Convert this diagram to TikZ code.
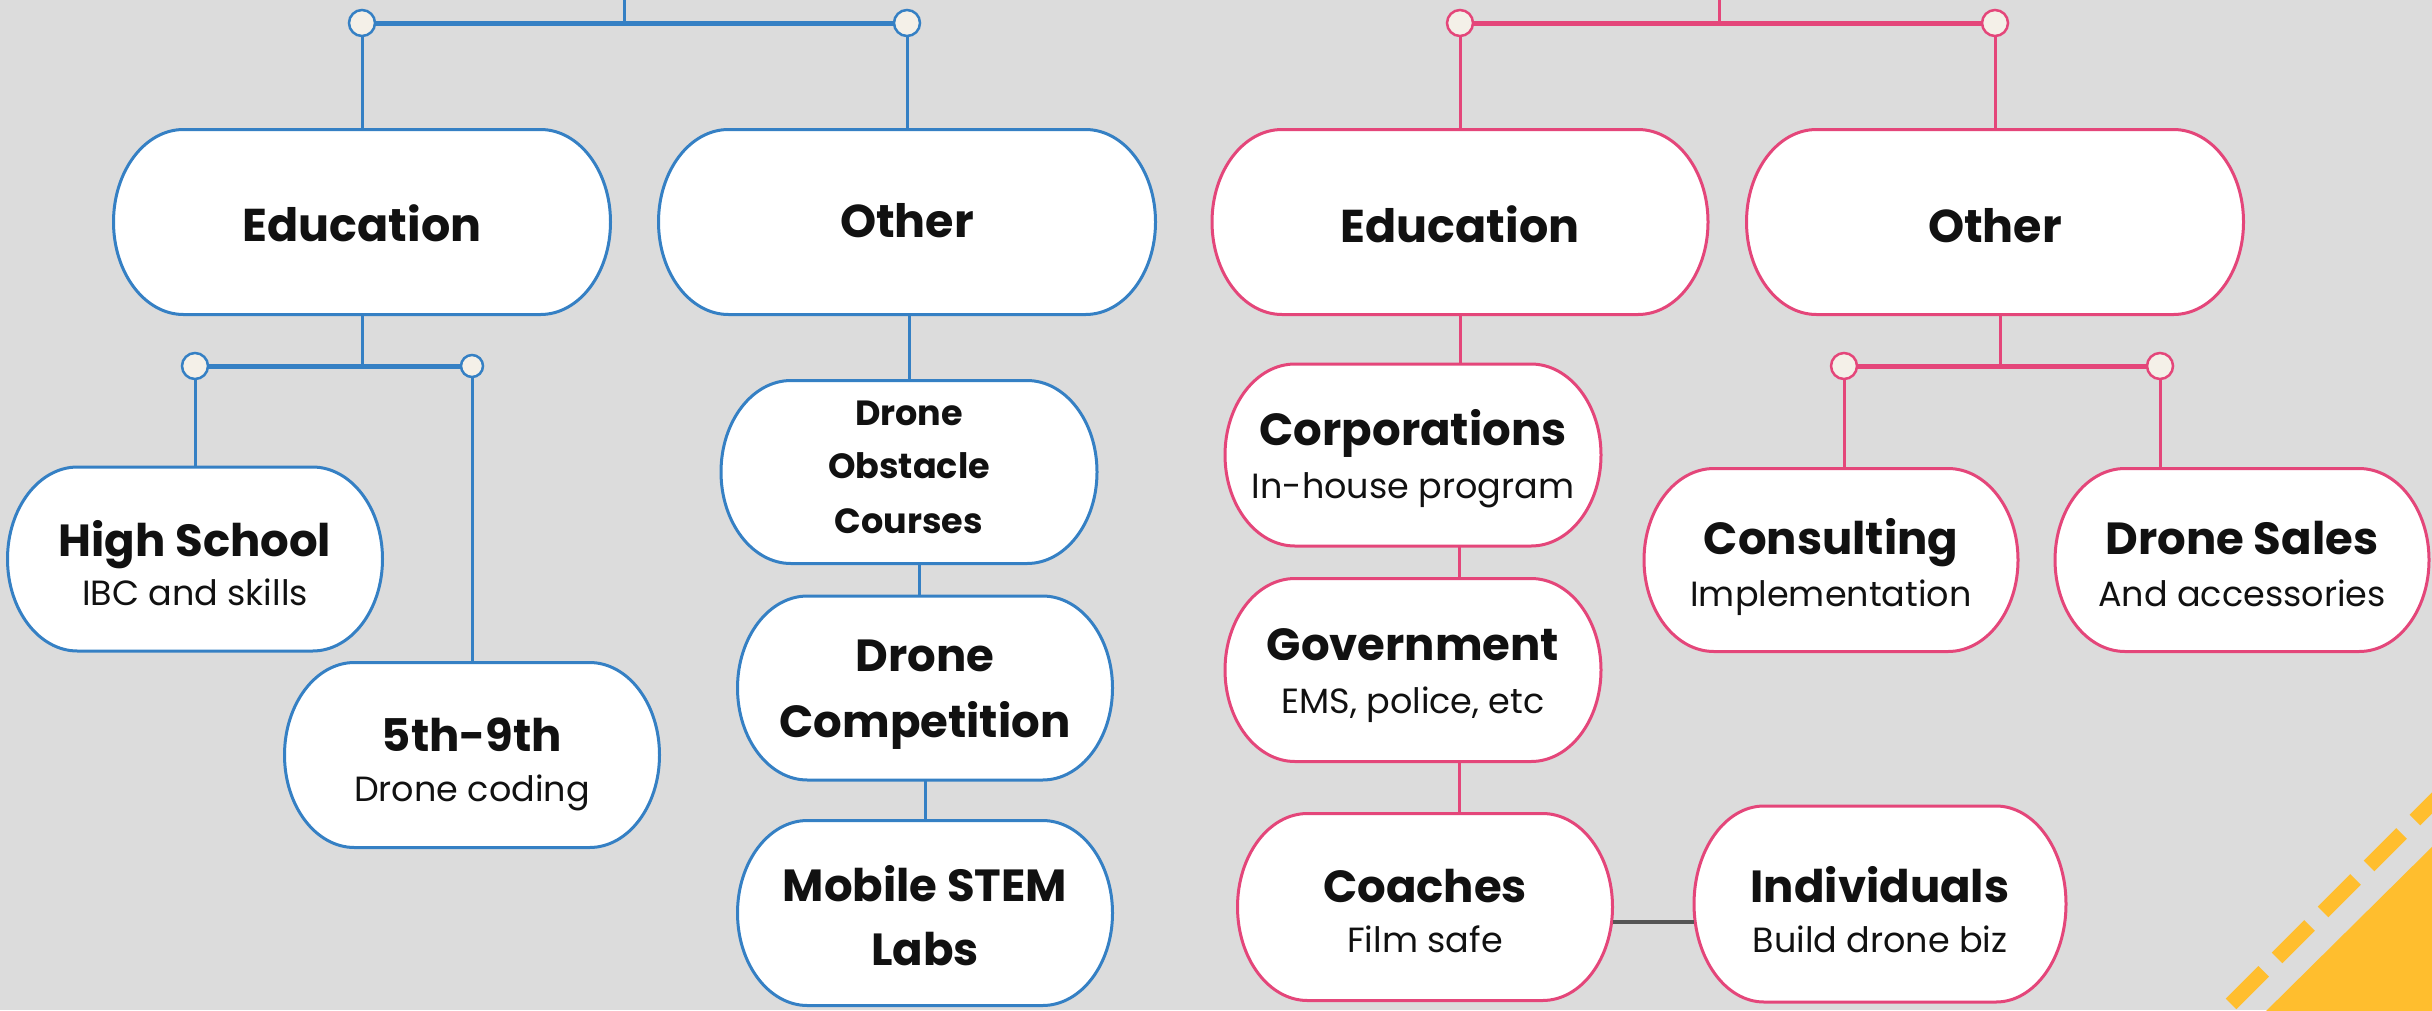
\documentclass[tikz,border=0pt]{standalone}
\usepackage{fontspec}
\setmainfont{Poppins}
\usetikzlibrary{calc}
\definecolor{bl}{RGB}{53,128,196}
\definecolor{pk}{RGB}{228,70,122}
\definecolor{cream}{RGB}{244,240,232}
\definecolor{bgc}{RGB}{220,220,220}
\definecolor{yel}{RGB}{255,190,46}
\definecolor{ink}{RGB}{17,17,17}
\definecolor{lnk}{RGB}{85,85,85}

% name, x, y, half width, half height, colour
\newcommand\pill[6]{%
  \draw[#6, line width=3pt, fill=white]
    ({#2-#4+70},{#3-#5}) -- ({#2+#4-70},{#3-#5})
    arc[start angle=90, end angle=-90, x radius=70pt, y radius=#5pt]
    -- ({#2-#4+70},{#3+#5})
    arc[start angle=270, end angle=90, x radius=70pt, y radius=#5pt] -- cycle;
  \node[holder, minimum width={2*#4pt}, minimum height={2*#5pt}] (#1) at (#2,#3) {};
}

\tikzset{
  holder/.style={inner sep=0pt, outer sep=0pt},
  conn/.style={line width=3pt},
  bar/.style={line width=5pt},
  joint/.style={circle, fill=cream, line width=2.5pt, inner sep=0pt, outer sep=0pt, minimum size=#1},
  joint/.default=26pt,
  big/.style={font=\fontsize{46}{52}\selectfont\bfseries, text=ink, anchor=base, inner sep=0pt},
  ttl/.style={font=\fontsize{45}{50}\selectfont\bfseries, text=ink, anchor=base, inner sep=0pt},
  sml/.style={font=\fontsize{35}{40}\selectfont\bfseries, text=ink, anchor=base, inner sep=0pt},
  sub/.style={font=\fontsize{35}{40}\selectfont, text=ink, anchor=base, inner sep=0pt},
}

\begin{document}
\begin{tikzpicture}[x=1pt, y=-1pt]
\useasboundingbox (0,0) rectangle (2432,1010);
\fill[bgc] (0,0) rectangle (2432,1010);

% yellow corner
\begin{scope}
  \clip (0,0) rectangle (2432,1010);
  \fill[yel] (2440,839) -- (2259,1018) -- (2440,1018) -- cycle;
  \draw[yel, line width=15pt, dash pattern=on 46pt off 19pt, dash phase=21pt] (2200,1035) -- (2450,785);
\end{scope}

% ---------- blue tree ----------
\pill{eduB}{362}{222}{248.5}{92.5}{bl}
\pill{othB}{907}{222}{248.5}{92.5}{bl}
\pill{hs}{195}{559}{187.5}{92}{bl}
\pill{gnine}{472}{755}{187.5}{92.5}{bl}
\pill{obs}{909}{472}{188}{91.5}{bl}
\pill{comp}{925}{688}{187.5}{92}{bl}
\pill{mob}{925}{913}{187.5}{92.5}{bl}

\node[big] (eduB-t) at (362,241) {Education};
\node[big] (othB-t) at (907,237) {Other};
\node[ttl] (hs-t) at (195,556) {High School};
\node[sub] (hs-s) at (195,605) {IBC and skills};
\node[ttl] (gnine-t) at (472,751) {5th-9th};
\node[sub] (gnine-s) at (472,801) {Drone coding};
\node[sml] (obs-a) at (909,425) {Drone};
\node[sml] (obs-b) at (909,478) {Obstacle};
\node[sml] (obs-c) at (909,533) {Courses};
\node[ttl] (comp-a) at (925,671) {Drone};
\node[ttl] (comp-b) at (925,737) {Competition};
\node[ttl] (mob-a) at (925,901) {Mobile STEM};
\node[ttl] (mob-b) at (925,965) {Labs};

\node[joint, draw=bl] (c1) at (362,23) {};
\node[joint, draw=bl] (c2) at (907,23) {};
\node[joint, draw=bl] (c3) at (195,366) {};
\node[joint=22pt, draw=bl] (c4) at (472,366) {};
\coordinate (btop) at (624,-10);
\coordinate (bj) at (624,23);
\coordinate (ej) at (362,366);

\begin{scope}[bl]
  \draw[conn] (btop) -- (bj);
  \draw[bar] (c1) -- (c2);
  \draw[conn] (c1) -- (eduB.north);
  \draw[conn] (c2) -- (othB.north);
  \draw[conn] (eduB.south) -- (ej);
  \draw[bar] (c3) -- (c4);
  \draw[conn] (c3) -- (hs.north);
  \draw[conn] (c4) -- (gnine.north);
  \draw[conn] (othB.south -| obs.north) -- (obs.north);
  \draw[conn] ([xshift=10pt]obs.south) -- ([xshift=-6pt]comp.north);
  \draw[conn] (comp.south) -- (mob.north);
\end{scope}

% ---------- pink tree ----------
\pill{eduP}{1460}{222}{248}{92.5}{pk}
\pill{othP}{1995}{222}{248.5}{92.5}{pk}
\pill{corp}{1413}{455}{188}{91}{pk}
\pill{gov}{1413}{670}{188}{91.5}{pk}
\pill{coach}{1425}{907}{187.5}{93.5}{pk}
\pill{indiv}{1880}{904}{186}{98}{pk}
\pill{cons}{1831}{560}{187}{91.5}{pk}
\pill{sales}{2242}{560}{187}{91.5}{pk}

\node[big] (eduP-t) at (1460,242) {Education};
\node[big] (othP-t) at (1995,242) {Other};
\node[ttl] (corp-t) at (1413,445) {Corporations};
\node[sub] (corp-s) at (1413,498) {In-house program};
\node[ttl] (gov-t) at (1413,660) {Government};
\node[sub] (gov-s) at (1413,713) {EMS, police, etc};
\node[ttl] (coach-t) at (1425,902) {Coaches};
\node[sub] (coach-s) at (1425,952) {Film safe};
\node[ttl] (indiv-t) at (1880,902) {Individuals};
\node[sub] (indiv-s) at (1880,952) {Build drone biz};
\node[ttl] (cons-t) at (1831,554) {Consulting};
\node[sub] (cons-s) at (1831,606) {Implementation};
\node[ttl] (sales-t) at (2242,554) {Drone Sales};
\node[sub] (sales-s) at (2242,606) {And accessories};

\node[joint, draw=pk] (c5) at (1460,23) {};
\node[joint, draw=pk] (c6) at (1995,23) {};
\node[joint, draw=pk] (c7) at (1844,366) {};
\node[joint, draw=pk] (c8) at (2160,366) {};
\coordinate (ptop) at (1719,-10);
\coordinate (pj) at (1719,23);
\coordinate (oj) at (2000,366);

\begin{scope}[pk]
  \draw[conn] (ptop) -- (pj);
  \draw[bar] (c5) -- (c6);
  \draw[conn] (c5) -- (eduP.north);
  \draw[conn] (c6) -- (othP.north);
  \draw[conn] (eduP.south) -- (eduP.south |- corp.north);
  \draw[conn] ([xshift=46pt]corp.south) -- ([xshift=46pt]gov.north);
  \draw[conn] ([xshift=46pt]gov.south) -- ([xshift=34pt]coach.north);
  \draw[conn] ([xshift=5pt]othP.south) -- (oj);
  \draw[bar] (c7) -- (c8);
  \draw[conn] (c7) -- (c7 |- cons.north);
  \draw[conn] (c8) -- (c8 |- sales.north);
\end{scope}
\draw[lnk, line width=3.5pt] ([yshift=-15pt]coach.east) -- ([yshift=-18pt]indiv.west);
\end{tikzpicture}
\end{document}
